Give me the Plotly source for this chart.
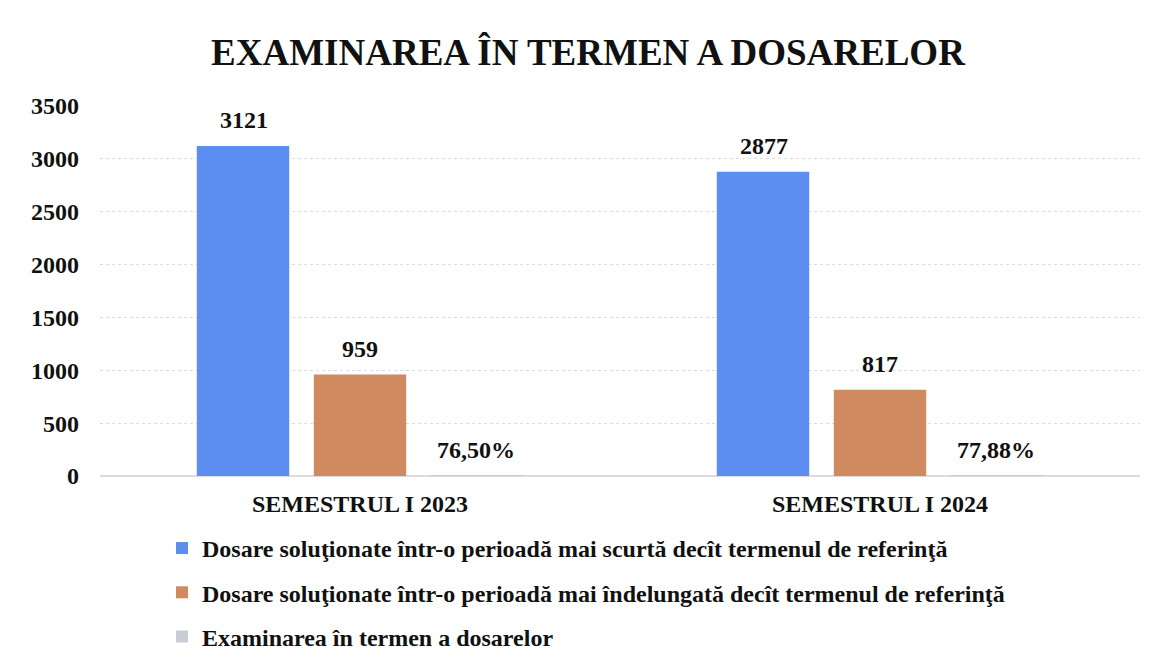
import plotly.graph_objects as go

categories = ["SEMESTRUL I 2023", "SEMESTRUL I 2024"]
shorter = [3121, 2877]
longer = [959, 817]
in_term_pct = [76.50, 77.88]
y_ticks = [0, 500, 1000, 1500, 2000, 2500, 3000, 3500]

series_names = [
    "Dosare soluţionate într-o perioadă mai scurtă decît termenul de referinţă",
    "Dosare soluţionate într-o perioadă mai îndelungată decît termenul de referinţă",
    "Examinarea în termen a dosarelor",
]
colors = ["#5B8EF0", "#D08A60", "#C8CCD6"]

FONT = "Liberation Serif"
in_term_vals = [p / 100 for p in in_term_pct]
in_term_txt = [f"{p:.2f}%".replace(".", ",") for p in in_term_pct]

fig = go.Figure()
all_vals = [shorter, longer, in_term_vals]
all_txt = [[str(v) for v in shorter], [str(v) for v in longer], in_term_txt]
for i, (name, vals, col) in enumerate(zip(series_names, all_vals, colors)):
    fig.add_trace(go.Bar(
        x=categories, y=vals, name=name, marker=dict(color=col, line=dict(width=0)),
        legendgroup=f"g{i}", offsetgroup=str(i),
    ))

# data labels placed above each bar
for j, (vals, txts) in enumerate(zip(all_vals, all_txt)):
    for k, (cat, v, t) in enumerate(zip(categories, vals, txts)):
        fig.add_annotation(
            x=cat, y=v, text=t, showarrow=False, yanchor="bottom",
            xshift=(j - 1) * 116, yshift=11,
            font=dict(family=FONT, size=24, color="#111111", weight="bold"),
        )

fig.update_layout(
    width=1143, height=661,
    paper_bgcolor="white", plot_bgcolor="white",
    margin=dict(l=92, r=11, t=98, b=192),
    barmode="group", bargap=0.325, bargroupgap=0.21,
    title=dict(text="EXAMINAREA ÎN TERMEN A DOSARELOR", x=0.5074, xanchor="center",
               y=0.933, yanchor="middle",
               font=dict(family=FONT, size=37, color="#111111", weight="bold")),
    font=dict(family=FONT, color="#111111"),
    legend=dict(
        orientation="v", x=0.0596, xanchor="left", y=-0.132, yanchor="top",
        traceorder="grouped", tracegroupgap=10,
        font=dict(family=FONT, size=24, color="#111111", weight="bold"),
        itemwidth=30, bgcolor="rgba(0,0,0,0)",
    ),
    showlegend=True,
)
fig.update_yaxes(
    range=[0, 3500], tickvals=y_ticks, showgrid=True, gridcolor="#dcdcdc",
    griddash="dot", gridwidth=1, zeroline=True, zerolinecolor="#dcdcdc",
    showline=False, ticks="", ticklabelstandoff=20,
    tickfont=dict(family=FONT, size=24, color="#111111", weight="bold"),
)
fig.update_xaxes(
    showline=False, ticks="", ticklabelstandoff=11,
    tickfont=dict(family=FONT, size=24, color="#111111", weight="bold"),
)

fig.write_html("out.html")
